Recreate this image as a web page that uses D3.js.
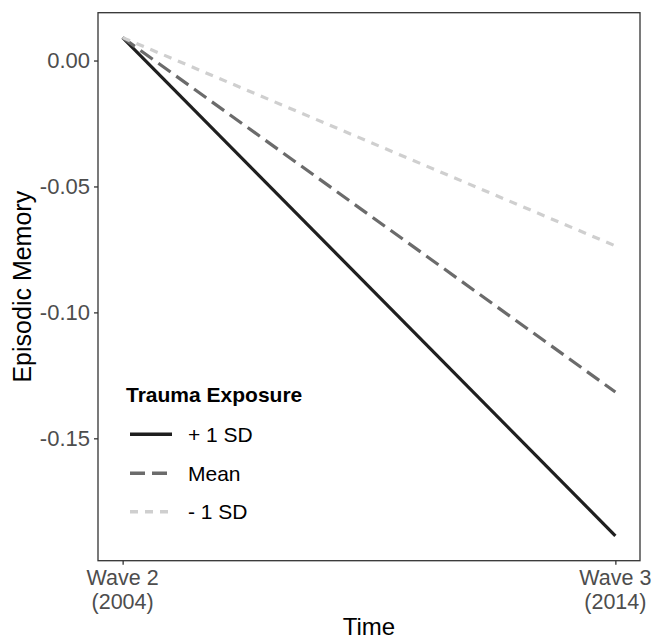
<!DOCTYPE html>
<html>
<head>
<meta charset="utf-8">
<script src="https://d3js.org/d3.v7.min.js"></script>
<style>
  body { margin: 0; background: #fff; }
  text { font-family: "Liberation Sans", Arial, sans-serif; }
</style>
</head>
<body>
<svg id="vis"></svg>
<script>
    // data
    var waves = ["Wave 2", "Wave 3"];
    var waveYears = ["(2004)", "(2014)"];
    var groups = ["+ 1 SD", "Mean", "- 1 SD"];
    var plusSD = [0.0091, -0.1887];
    var meanSD = [0.0091, -0.1316];
    var minusSD = [0.0091, -0.0736];
    var yTicks = [0.00, -0.05, -0.10, -0.15];

    var series = [plusSD, meanSD, minusSD];
    var colors = ["#1f1f1f", "#6b6b6b", "#cfcfcf"];
    var dashes = [null, "15,7", "8,7"];

    var W = 652, H = 638;
    var panel = {left: 98, right: 640, top: 12.7, bottom: 560.7};

    var svg = d3.select("#vis")
        .attr("width", W)
        .attr("height", H);

    //Scales (ggplot style 5% expansion)
    var xScale = d3.scaleLinear()
        .domain([-0.05, 1.05])
        .range([panel.left, panel.right]);

    var yMin = d3.min(series, function(s) { return d3.min(s); });
    var yMax = d3.max(series, function(s) { return d3.max(s); });
    var pad = (yMax - yMin) * 0.05;
    var yScale = d3.scaleLinear()
        .domain([yMin - pad, yMax + pad])
        .range([panel.bottom, panel.top]);

    //Lines
    var line = d3.line()
        .x(function(d, i) { return xScale(i); })
        .y(function(d) { return yScale(d); });

    svg.append("g")
        .selectAll("path")
        .data(series)
        .enter()
        .append("path")
            .attr("d", line)
            .attr("fill", "none")
            .attr("stroke", function(d, i) { return colors[i]; })
            .attr("stroke-width", 3.2)
            .attr("stroke-dasharray", function(d, i) { return dashes[i]; });

    //Panel border
    svg.append("rect")
        .attr("x", panel.left)
        .attr("y", panel.top)
        .attr("width", panel.right - panel.left)
        .attr("height", panel.bottom - panel.top)
        .attr("fill", "none")
        .attr("stroke", "#333")
        .attr("stroke-width", 1.3);

    //Y axis (plain hyphen for minus, like the original)
    var fmt = d3.format(".2f");
    var yAxis = svg.append("g")
        .attr("transform", "translate(" + panel.left + ",0)")
        .call(d3.axisLeft(yScale)
            .tickValues(yTicks)
            .tickFormat(function(d) { return fmt(d).replace("\u2212", "-"); })
            .tickSize(4)
            .tickPadding(4));
    yAxis.select(".domain").remove();
    yAxis.selectAll("line").attr("stroke", "#333").attr("stroke-width", 1.3);
    yAxis.selectAll("text")
        .attr("fill", "#4d4d4d")
        .style("font-size", "22px")
        .style("font-family", "Liberation Sans, Arial, sans-serif");

    //X axis
    var xAxis = svg.append("g")
        .attr("transform", "translate(0," + panel.bottom + ")")
        .call(d3.axisBottom(xScale)
            .tickValues([0, 1])
            .tickFormat("")
            .tickSize(4));
    xAxis.select(".domain").remove();
    xAxis.selectAll("line").attr("stroke", "#333").attr("stroke-width", 1.3);

    var xLab = svg.append("g")
        .selectAll("text")
        .data(waves)
        .enter()
        .append("text")
            .attr("x", function(d, i) { return xScale(i); })
            .attr("y", 584.5)
            .attr("text-anchor", "middle")
            .attr("fill", "#4d4d4d")
            .style("font-size", "21.5px");
    xLab.append("tspan")
        .attr("x", function(d, i) { return xScale(i); })
        .text(function(d) { return d; });
    xLab.append("tspan")
        .attr("x", function(d, i) { return xScale(i); })
        .attr("dy", 24)
        .text(function(d, i) { return waveYears[i]; });

    //Axis titles
    svg.append("text")
        .attr("x", (panel.left + panel.right) / 2)
        .attr("y", 634.5)
        .attr("text-anchor", "middle")
        .style("font-size", "24px")
        .text("Time");

    svg.append("text")
        .attr("transform", "translate(30.5," + (panel.top + panel.bottom) / 2 + ") rotate(-90)")
        .attr("text-anchor", "middle")
        .style("font-size", "25px")
        .text("Episodic Memory");

    //Legend
    svg.append("text")
        .attr("x", 126)
        .attr("y", 401.5)
        .style("font-size", "21px")
        .style("font-weight", "bold")
        .text("Trauma Exposure");

    var keyY = [434.3, 473.3, 511.7];
    var legend = svg.append("g")
        .selectAll("g")
        .data(groups)
        .enter()
        .append("g")
            .attr("transform", function(d, i) { return "translate(0," + keyY[i] + ")"; });

    legend.append("line")
        .attr("x1", 130)
        .attr("x2", 172)
        .attr("stroke", function(d, i) { return colors[i]; })
        .attr("stroke-width", 3.4)
        .attr("stroke-dasharray", function(d, i) { return dashes[i]; });

    legend.append("text")
        .attr("x", 188)
        .attr("y", 7.5)
        .style("font-size", "21px")
        .text(function(d) { return d; });
</script>
</body>
</html>
